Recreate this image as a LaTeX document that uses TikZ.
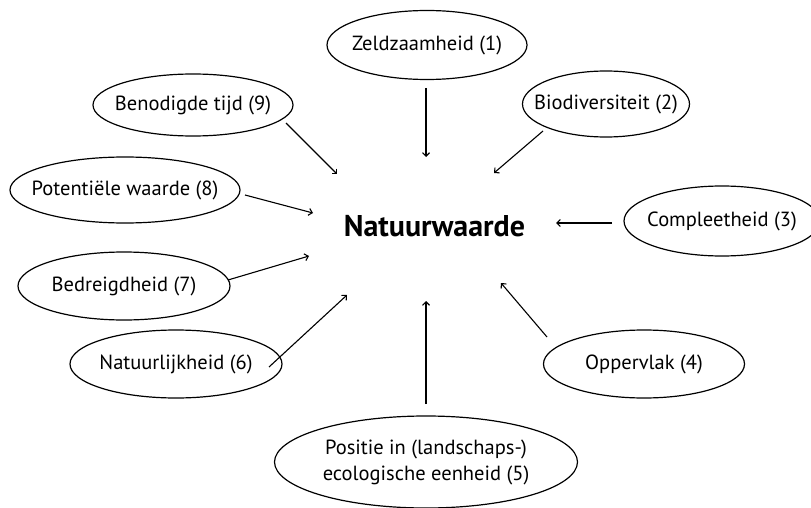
\documentclass[tikz,border=0pt]{standalone}
\usepackage{fontspec}
\setmainfont{PT Sans}
\usetikzlibrary{shapes.geometric,arrows.meta}
\begin{document}
\begin{tikzpicture}[x=1pt,y=-1pt,
  lbl/.style={draw=black,line width=1.2pt,ellipse,inner sep=0pt},
  txt/.style={font=\fontsize{20.5}{26}\selectfont,align=center,inner sep=0pt},
  arr/.style={line width=1.1pt,-{Straight Barb[length=3.5pt,width=7pt,line width=1.1pt]}}]
\useasboundingbox (0,0) rectangle (811,508);
\node[lbl,minimum width=200pt,minimum height=69pt,label={[txt]center:Zeldzaamheid (1)}] (n1) at (427,45) {};
\node[lbl,minimum width=167pt,minimum height=66pt,label={[txt]center:Biodiversiteit (2)}] (n2) at (606,104) {};
\node[lbl,minimum width=196pt,minimum height=70pt,label={[txt]center:Compleetheid (3)}] (n3) at (722,221) {};
\node[lbl,minimum width=201pt,minimum height=68pt,label={[txt]center:Oppervlak (4)}] (n4) at (644,364) {};
\node[lbl,minimum width=303pt,minimum height=92pt,label={[txt]center:{Positie in (landschaps-)\\ecologische eenheid (5)}}] (n5) at (426,462) {};
\node[lbl,minimum width=212pt,minimum height=68pt,label={[txt]center:Natuurlijkheid (6)}] (n6) at (176,364) {};
\node[lbl,minimum width=212pt,minimum height=68pt,label={[txt]center:Bedreigdheid (7)}] (n7) at (124,286) {};
\node[lbl,minimum width=230pt,minimum height=66pt,label={[txt]center:Potentiële waarde (8)}] (n8) at (125,190) {};
\node[lbl,minimum width=200pt,minimum height=62pt,label={[txt]center:Benodigde tijd (9)}] (n9) at (193,105) {};
\node[font=\fontsize{30}{34}\selectfont\bfseries] (c) at (434.5,226) {Natuurwaarde};
% connector end points
\coordinate (t1) at (426,88);  \coordinate (h1) at (426,157);
\coordinate (t2) at (543,131); \coordinate (h2) at (494,173);
\coordinate (t3) at (612,223); \coordinate (h3) at (556,223);
\coordinate (t4) at (547,337); \coordinate (h4) at (501,283);
\coordinate (t5) at (426,404); \coordinate (h5) at (426,301);
\coordinate (t6) at (269,367); \coordinate (h6) at (347,295);
\coordinate (t7) at (228,280); \coordinate (h7) at (309,256);
\coordinate (t8) at (245,195); \coordinate (h8) at (313,213);
\coordinate (t9) at (286,123); \coordinate (h9) at (337,174);
\foreach \i in {1,...,9} {\draw[arr] (t\i) -- (h\i);}
\end{tikzpicture}
\end{document}
